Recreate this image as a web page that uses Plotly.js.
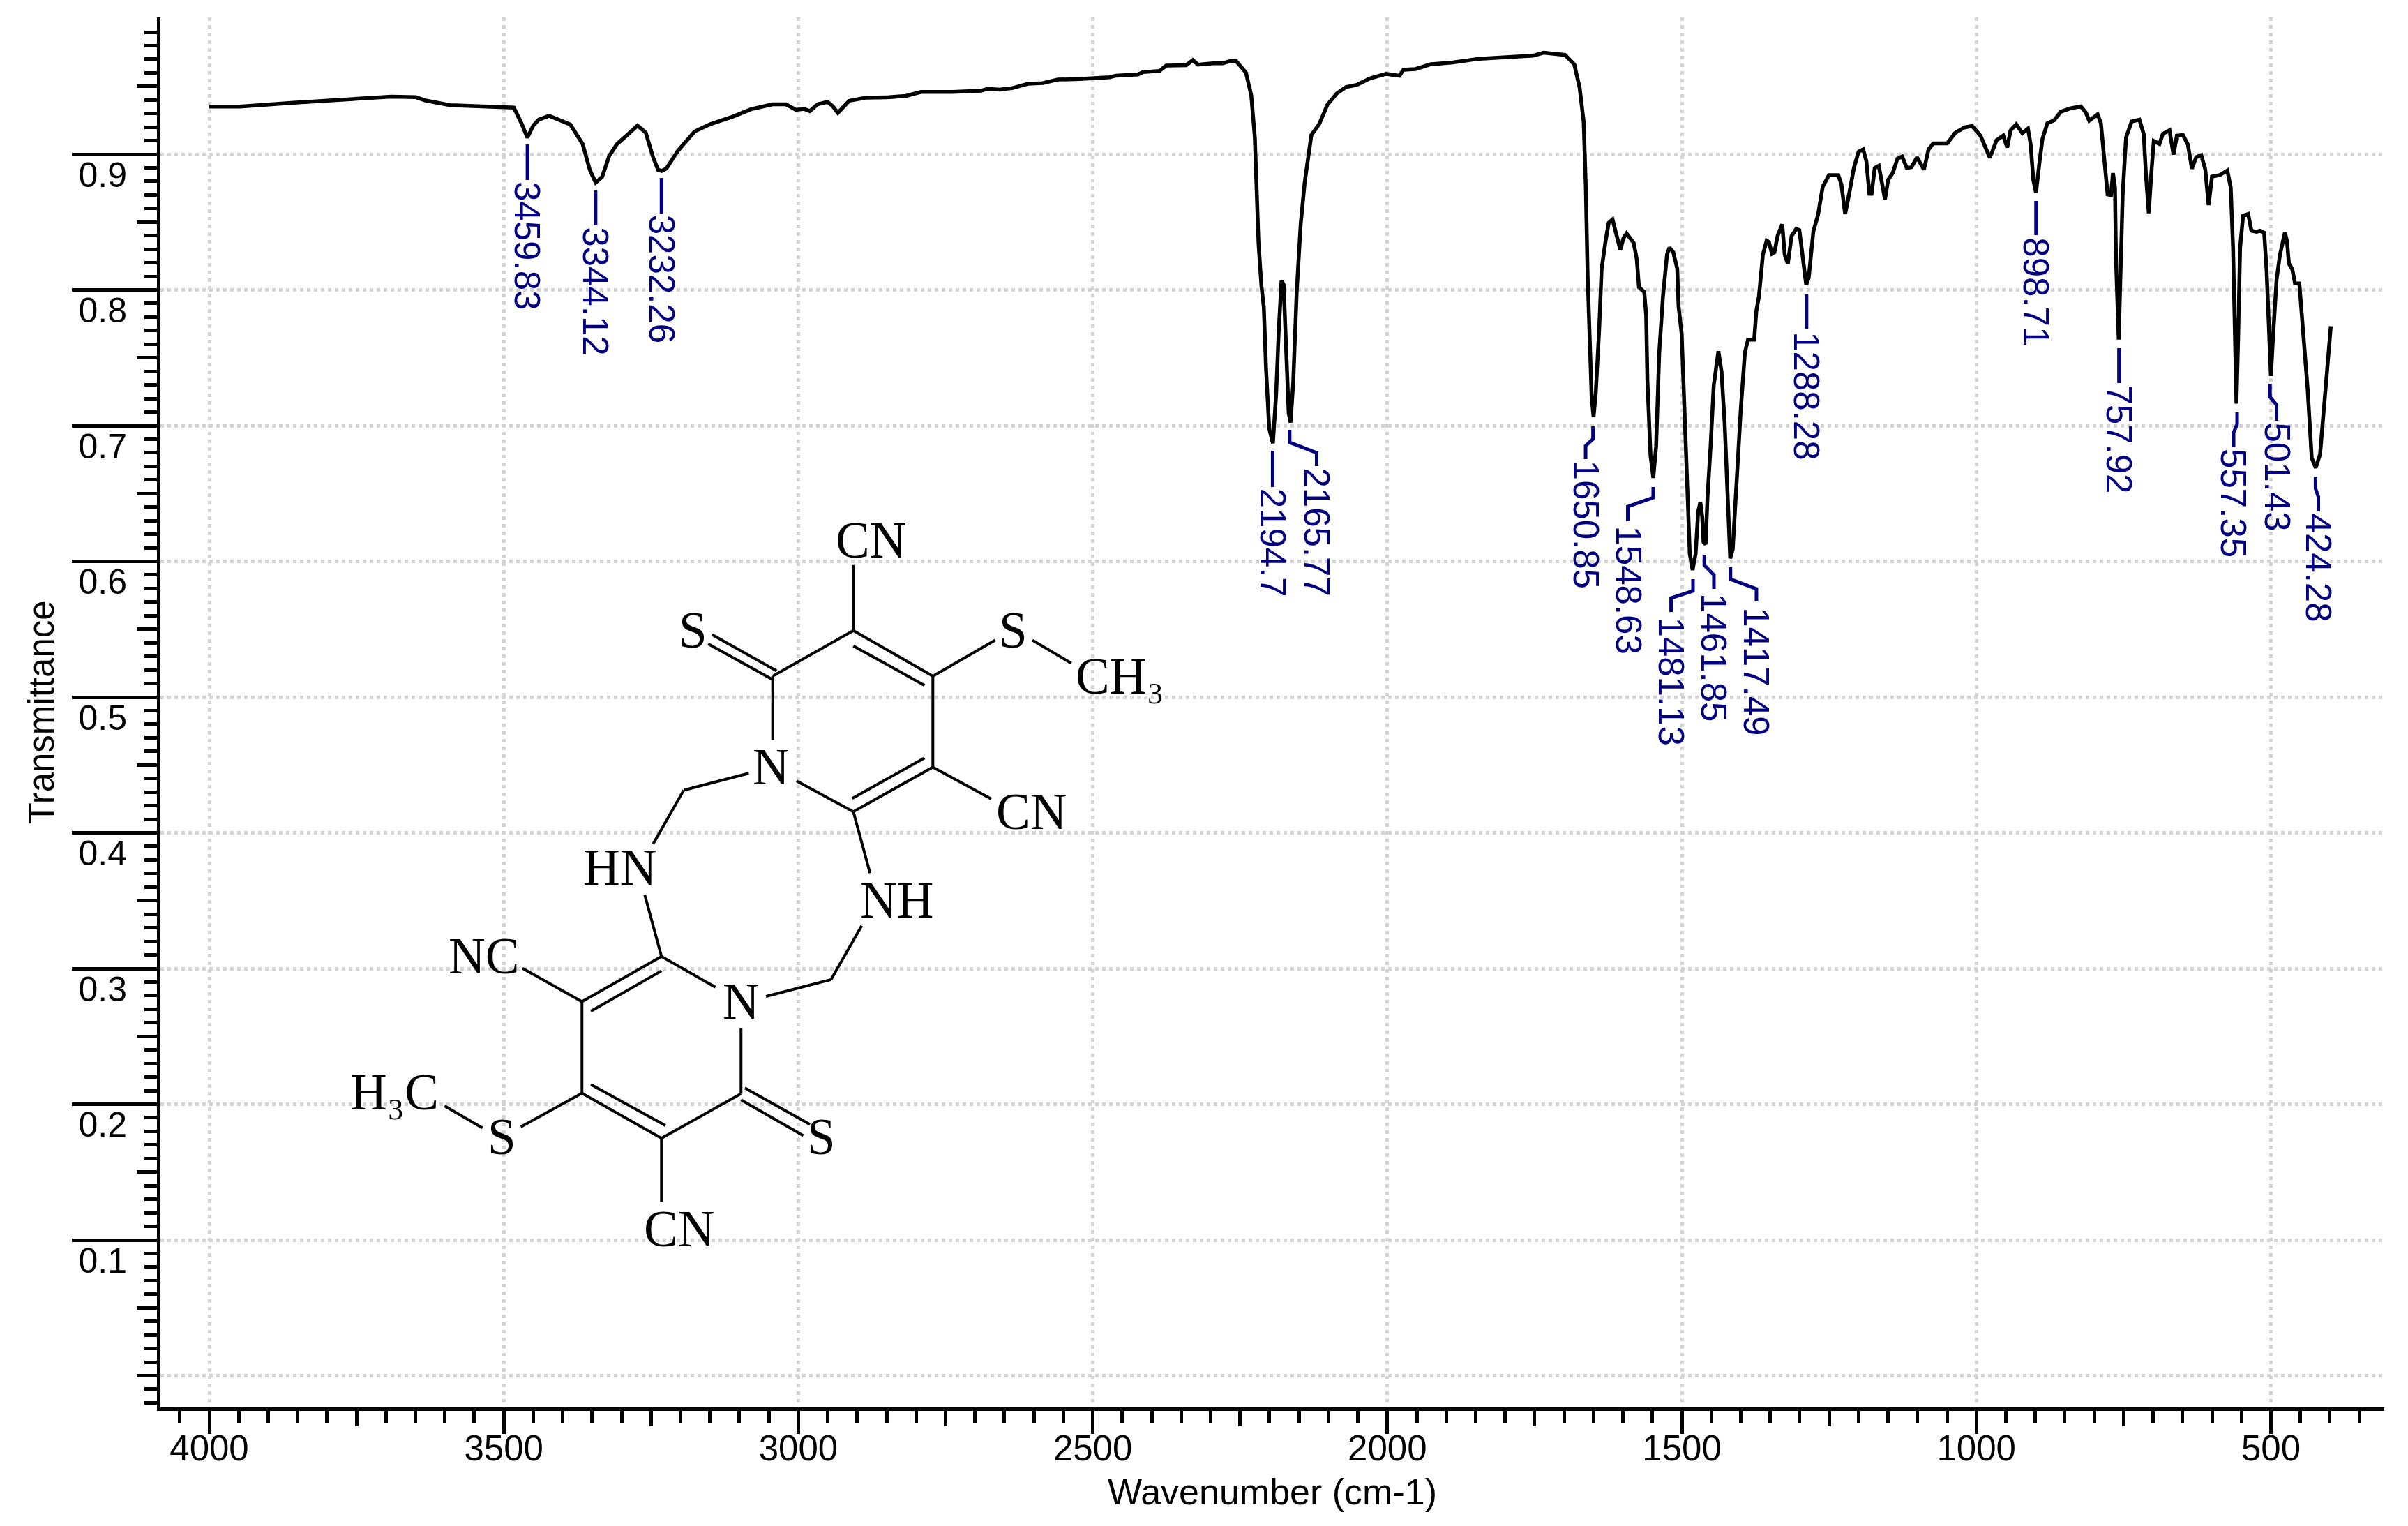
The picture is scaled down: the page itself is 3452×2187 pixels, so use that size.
<!DOCTYPE html>
<html><head><meta charset="utf-8">
<script src="https://cdn.plot.ly/plotly-3.0.1.min.js"></script>
<style>html,body{margin:0;padding:0;background:#fff}#c{width:3452px;height:2187px}</style>
</head><body><div id="c"></div>
<script>
const wavenumber=[4000,3948,3857,3757,3691,3649,3633,3591,3500,3483,3470,3460,3450,3441,3423,3387,3366,3354,3344,3333,3321,3308,3288,3273,3259,3246,3238,3232,3224,3205,3176,3151,
3111.8,3080.6,3043.8,3021,3004,2990,2980.4,2967.4,2950.4,2941.9,2932.8,2913.5,2885.2,2845.6,2817.2,2791.8,2738,2689.8,2678.5,2658.6,2636,2610.5,2585,2559.5,2522.7,2500,2471.7,2460.4,2423.6,2415,2386.7,2375.4,2341.4,2330.1,2321.6,2296,2279.2,2267.8,2256.5,
2240,2231,2225,2221.9,2218.7,2213.7,2209.7,2206,2200.6,2194.3,2188.8,2184.3,2179.7,2176.1,2172,2167.5,2164.3,2159.8,2153.9,2147.1,2140.3,2129,2115.4,2101.8,2085.9,2070.1,2052,2029.3,2002.1,1979.4,1972.6,1952.2,1927.3,1888.8,1843.4,1798.1,1752.8,1734.7,1698.4,1682.6,1673.5,1666.7,1663.1,1659.9,1656.7,1653.1,1649.9,1646.3,1640.4,
1636.2,1629.4,1624.1,1617.7,1611.4,1604.5,1599.2,1593.9,1581.8,1576.5,1572.8,1563.8,1560.6,1558.5,1553.2,1548.5,1543.7,1538.4,1532.1,1525.2,1521,1514.6,1507.8,1505.6,1500.3,1496.1,1490.8,1486.6,1481.8,1476.6,1472.3,1468.6,1465.5,1463.3,1459.7,1456.5,1451.2,1445.9,1438,1432.7,1427.4,1422.1,1417.9,1413.6,1406.3,1399.9,1393,1387.7,1377.2,1373.5,1369.2,1362.4,1356,1352.3,1347,1342.8,1337.5,1329.6,1325.4,1320.1,1313.7,1305.8,1300.5,1295.2,1288.9,1284.7,1276.7,1268.8,1260.9,1250.3,1234.4,1229.1,1222.8,1216,1208,1200,1192.1,1186.8,1181.6,1177.9,1172.6,1165.7,1160.4,1155.1,1149.8,1141.9,1134,1126,1118.1,1110.2,1100.7,1089,1081.1,1073.2,1049.4,1036.2,1020.3,
1007.2,993,977.1,965.8,954.4,947.6,941.9,932.3,922,912.4,907.8,903.3,898.7,893.6,887.9,879.4,868.1,856.7,839.7,822.6,814.1,808.4,794.2,788.6,782.9,777.2,771.5,768.1,764.7,763,758.4,754.5,751.6,745.9,736.3,723.3,715.9,711.9,707.3,703.4,698.8,689.2,683.5,672.1,665.3,659.6,649.4,640.9,634.1,626.7,618.2,611.4,605.7,600,586.9,573.9,568.2,564.2,561.4,558.5,555.7,552.3,547.2,538.6,533,524.4,518.8,511.4,507.4,503.4,500,496,490.4,484.7,476.2,472.8,469.3,463.7,459.1,451.7,444.9,437.5,430.7,423.9,416.5,408,398.3];
const transmittance=[.9351,.9351,.9379,.9408,.9425,.942,.9396,.9362,.9351,.9344,.9228,.9122,.9211,.9254,.9283,.9219,.9074,.8885,.8791,.8834,.8988,.9074,.9151,.9211,.9159,.8971,.8885,.8877,.8894,.9022,.9168,.9219,
.9276,.9331,.9368,.9368,.9327,.9334,.9317,.9368,.9386,.9356,.9305,.9394,.9417,.942,.943,.9459,.9459,.9468,.9482,.9476,.9488,.9519,.9524,.955,.9554,.956,.9567,.9579,.9588,.9605,.9614,.9653,.9656,.9694,.966,.967,.967,.9686,.9686,
.9601,.9433,.9127,.8764,.8347,.8026,.7873,.7427,.6981,.687,.7232,.7706,.8068,.804,.765,.7092,.7023,.7316,.7984,.8486,.8792,.9141,.9224,.9364,.9447,.9495,.9511,.9559,.9592,.9578,.9623,.9628,.9662,.9676,.9704,.9718,.9726,.9748,.9732,.9662,.9489,.9238,.8764,.8096,.7566,.7204,.7065,.7232,.7706,
.8157,.8364,.8495,.8519,.8416,.8295,.8381,.8416,.8347,.8226,.802,.7985,.7813,.7331,.678,.6615,.6849,.7538,.7951,.8261,.8312,.8278,.8157,.7882,.7675,.7124,.6573,.6057,.5936,.6057,.6367,.6436,.6332,.6143,.6125,.647,.6849,.7297,.7548,.74,.7021,.6367,.6022,.6091,.6711,.7124,.7538,.7634,.7634,.7847,.7951,.8261,.8364,.8354,.8267,.8278,.8398,.8484,.8261,.8192,.8398,.845,.844,.8226,.8037,.8088,.8433,.8553,.876,.8846,.8846,.8777,.856,.8708,.8898,.9018,.9036,.8949,.8708,.8708,.8898,.8915,.8777,.8667,.8812,.8863,.8967,.8984,.8898,.8905,.8977,.8887,.9036,.908,.908,.9156,.9197,
.9208,.9137,.8974,.9103,.9137,.905,.9176,.9221,.9155,.9189,.9071,.8809,.8717,.8914,.9111,.9229,.925,.9313,.9339,.9352,.9307,.9247,.9294,.9229,.894,.8704,.8699,.8861,.8756,.8232,.7634,.8153,.8704,.9124,.9242,.9255,.915,.8835,.8565,.8835,.9097,.9076,.915,.9176,.8998,.9137,.9142,.9071,.8893,.8979,.8993,.8888,.8625,.8835,.8846,.888,.8756,.831,.7628,.7162,.7628,.831,.8547,.856,.8436,.8429,.8436,.8421,.8153,.7733,.7366,.7681,.8074,.8258,.8423,.8363,.8193,.8153,.8048,.8048,.7655,.7261,.6763,.6689,.6789,.7261,.7733];

const peakLabels=['3459.83','3344.12','3232.26','2194.7','2165.77','1650.85','1548.63','1481.13','1461.85','1417.49','1288.28','898.71','757.92','557.35','501.43','424.28'];
const leaderX=[[3459.83,3459.83],[3344.12,3344.12],[3232.26,3232.26],[2194.7,2194.7],[2165.77,2165.77,2120,2120],[1650.85,1650.85,1663.4,1663.4],[1548.63,1548.63,1591.8,1591.8],[1481.13,1481.13,1518.3,1518.3],[1461.85,1461.85,1445.6,1445.6],[1417.49,1417.49,1373.4,1373.4],[1288.28,1288.28],[898.71,898.71],[757.92,757.92],[557.35,557.35,563.3,563.3],[501.43,501.43,490.4,490.4],[424.28,424.28,419.4,419.4]];
const leaderT=[[.9072,.881],[.8733,.8476],[.8825,.8563],[.6815,.6548],[.6969,.6877,.68,.6702],[.6995,.6902,.6851,.6753],[.6548,.647,.6404,.6296],[.5869,.5782,.573,.5627],[.6049,.5972,.59,.5797],[.5956,.5869,.5797,.5704],[.7967,.7715],[.8656,.8404],[.7571,.7314],[.7098,.701,.6949,.6841],[.7308,.7211,.7154,.7036],[.6625,.6537,.6476,.6368]];
const labelTop=[.8799,.8465,.8553,.6537,.6692,.6745,.6265,.5591,.5766,.5663,.7694,.8388,.7303,.683,.7026,.6357];

const xMajor=[4000,3500,3000,2500,2000,1500,1000,500];
const xMedium=[3750,3250,2750,2250,1750,1250,750];
const yMajor=[.1,.2,.3,.4,.5,.6,.7,.8,.9];
const yMedium=[0,.05,.15,.25,.35,.45,.55,.65,.75,.85,.95];
const yZero=[0];
const yMinor=[-.02,-.01,.01,.02,.03,.04,.06,.07,.08,.09,.11,.12,.13,.14,.16,.17,.18,.19,.21,.22,.23,.24,.26,.27,.28,.29,.31,.32,.33,.34,.36,.37,.38,.39,.41,.42,.43,.44,.46,.47,.48,.49,.51,.52,.53,.54,.56,.57,.58,.59,.61,.62,.63,.64,.66,.67,.68,.69,.71,.72,.73,.74,.76,.77,.78,.79,.81,.82,.83,.84,.86,.87,.88,.89,.91,.92,.93,.94,.96,.97,.98,.99];

// molecule drawing, in its own sketch units
const bonds=[[970,278,970,150],[970,278,825,367],[832,357,716,286],[825,374,709,304],[825,367,825,492],[970,278,1113,367],[970,308,1098,385],[1113,367,1113,545],[1113,367,1225,297],[1292,297,1362,342],[1113,545,970,632],[1098,527,968,606],[1113,545,1218,607],[970,632,868,572],[782,557,665,590],[665,590,610,695],[970,632,1000,752],[985,855,930,960],[930,960,813,993],[722,975,625,915],[625,915,595,795],[625,915,482,1003],[625,943,498,1022],[482,1003,375,938],[482,1003,482,1182],[482,1182,625,1270],[498,1165,632,1245],[482,1182,372,1248],[303,1250,235,1207],[625,1270,768,1183],[625,1270,625,1395],[768,1183,768,1055],[775,1172,892,1243],[768,1195,880,1265]];
const atomText=['CN','S','S','CH₃','N','CN','HN','NH','NC','N','H₃C','S','S','CN'];
const atomX=[1002,682,1258,1450,822,1290,550,1048,305,768,145,338,912,657];
const atomY=[102,278,278,368,545,632,742,805,915,1003,1180,1268,1268,1447];

const lx=[],ly=[];leaderX.forEach((a,i)=>{a.forEach((v,j)=>{lx.push(v);ly.push(leaderT[i][j])});lx.push(null);ly.push(null)});
const bx=[],by=[];bonds.forEach(b=>{bx.push(b[0],b[2],null);by.push(b[1],b[3],null)});

const xr=[4082.9,307.5],yr=[-0.0234,1.0008];
const F='"Liberation Sans",Arial,sans-serif';
const hidden={visible:false,showgrid:false,zeroline:false,showticklabels:false,ticks:''};

const traces=[
 {x:[null],y:[null],xaxis:'x3',yaxis:'y3',mode:'lines',hoverinfo:'skip',showlegend:false},
 {x:[null],y:[null],xaxis:'x',yaxis:'y4',mode:'lines',hoverinfo:'skip',showlegend:false},
 {x:[null],y:[null],xaxis:'x',yaxis:'y5',mode:'lines',hoverinfo:'skip',showlegend:false},
 {x:[null],y:[null],xaxis:'x4',yaxis:'y',mode:'lines',hoverinfo:'skip',showlegend:false},
 {x:bx,y:by,xaxis:'x2',yaxis:'y2',mode:'lines',line:{color:'#000',width:4},hoverinfo:'skip',showlegend:false,connectgaps:false},
 {x:lx,y:ly,mode:'lines',line:{color:'#000080',width:5,join:'round'},hoverinfo:'skip',showlegend:false,connectgaps:false},
 {x:wavenumber,y:transmittance,mode:'lines',line:{color:'#000',width:5.5,join:'round'},showlegend:false}
];

const ann=[];
peakLabels.forEach((t,i)=>{const a=leaderX[i];ann.push({text:t,x:a[a.length-1],y:labelTop[i],xref:'x',yref:'y',xanchor:'center',yanchor:'top',textangle:90,showarrow:false,borderpad:0,borderwidth:0,font:{family:F,size:51,color:'#000080'}})});
atomText.forEach((t,i)=>ann.push({text:t,x:atomX[i],y:atomY[i],xref:'x2',yref:'y2',xanchor:'center',yanchor:'middle',showarrow:false,borderpad:0,font:{family:'"Liberation Serif","Times New Roman",serif',size:73,color:'#000'}}));

const gridStyle={showgrid:true,gridcolor:'#d3d3d3',gridwidth:5};
const layout={
 width:3452,height:2187,margin:{l:230,r:34,t:25,b:170,pad:0},paper_bgcolor:'#fff',plot_bgcolor:'#fff',showlegend:false,hovermode:false,
 xaxis:{range:xr,autorange:false,tickmode:'array',tickvals:xMajor,showticklabels:false,ticks:'outside',ticklen:33,tickwidth:5,tickcolor:'#000',
  showline:true,linecolor:'#000',linewidth:5,zeroline:false,...gridStyle,griddash:'5px,6px',
  minor:{tickmode:'linear',tick0:0,dtick:50,ticks:'outside',ticklen:18,tickwidth:5,tickcolor:'#000',showgrid:false},
  title:{text:'Wavenumber (cm-1)',standoff:67,font:{family:F,size:52,color:'#000'}}},
 yaxis:{range:yr,autorange:false,tickmode:'array',tickvals:yMajor,ticktext:yMajor.map(String),ticks:'',
  showline:true,linecolor:'#000',linewidth:5,zeroline:false,...gridStyle,griddash:'5px,5px',tickfont:{family:F,size:50,color:'#000'},ticklabelstandoff:33,ticklabelshift:29,
  minor:{tickmode:'array',tickvals:yMinor,ticks:'outside',ticklen:18,tickwidth:5,tickcolor:'#000',showgrid:false},
  title:{text:'Transmittance',standoff:20,font:{family:F,size:51,color:'#000'}}},
 xaxis2:{...hidden,range:[-276,3723],autorange:false,overlaying:'x',anchor:'y2'},
 yaxis2:{...hidden,range:[1796,-920],autorange:false,overlaying:'y',anchor:'x2'},
 xaxis3:{range:xr,autorange:false,overlaying:'x',anchor:'y',side:'bottom',tickmode:'array',tickvals:xMedium,ticks:'outside',ticklen:26,tickwidth:5,tickcolor:'#000',showticklabels:false,showgrid:false,zeroline:false,showline:false},
 xaxis4:{range:xr,autorange:false,overlaying:'x',anchor:'y',side:'bottom',tickmode:'array',tickvals:xMajor,ticktext:xMajor.map(String),ticks:'',showticklabels:true,ticklabelstandoff:24,tickfont:{family:F,size:51,color:'#000'},showgrid:false,zeroline:false,showline:false},
 yaxis3:{range:yr,autorange:false,overlaying:'y',anchor:'x',side:'left',tickmode:'array',tickvals:yMedium,ticks:'outside',ticklen:33,tickwidth:5,tickcolor:'#000',showticklabels:false,showgrid:false,zeroline:false,showline:false},
 yaxis4:{range:yr,autorange:false,overlaying:'y',anchor:'x',side:'left',tickmode:'array',tickvals:yMajor,ticks:'outside',ticklen:126,tickwidth:5,tickcolor:'#000',showticklabels:false,showgrid:false,zeroline:false,showline:false},
 yaxis5:{range:yr,autorange:false,overlaying:'y',anchor:'x',side:'left',tickmode:'array',tickvals:yZero,ticks:'',showticklabels:false,showgrid:true,gridcolor:'#d3d3d3',gridwidth:5,griddash:'5px,5px',zeroline:false,showline:false},
 annotations:ann
};
Plotly.newPlot('c',traces,layout,{staticPlot:true,displayModeBar:false});
</script></body></html>
